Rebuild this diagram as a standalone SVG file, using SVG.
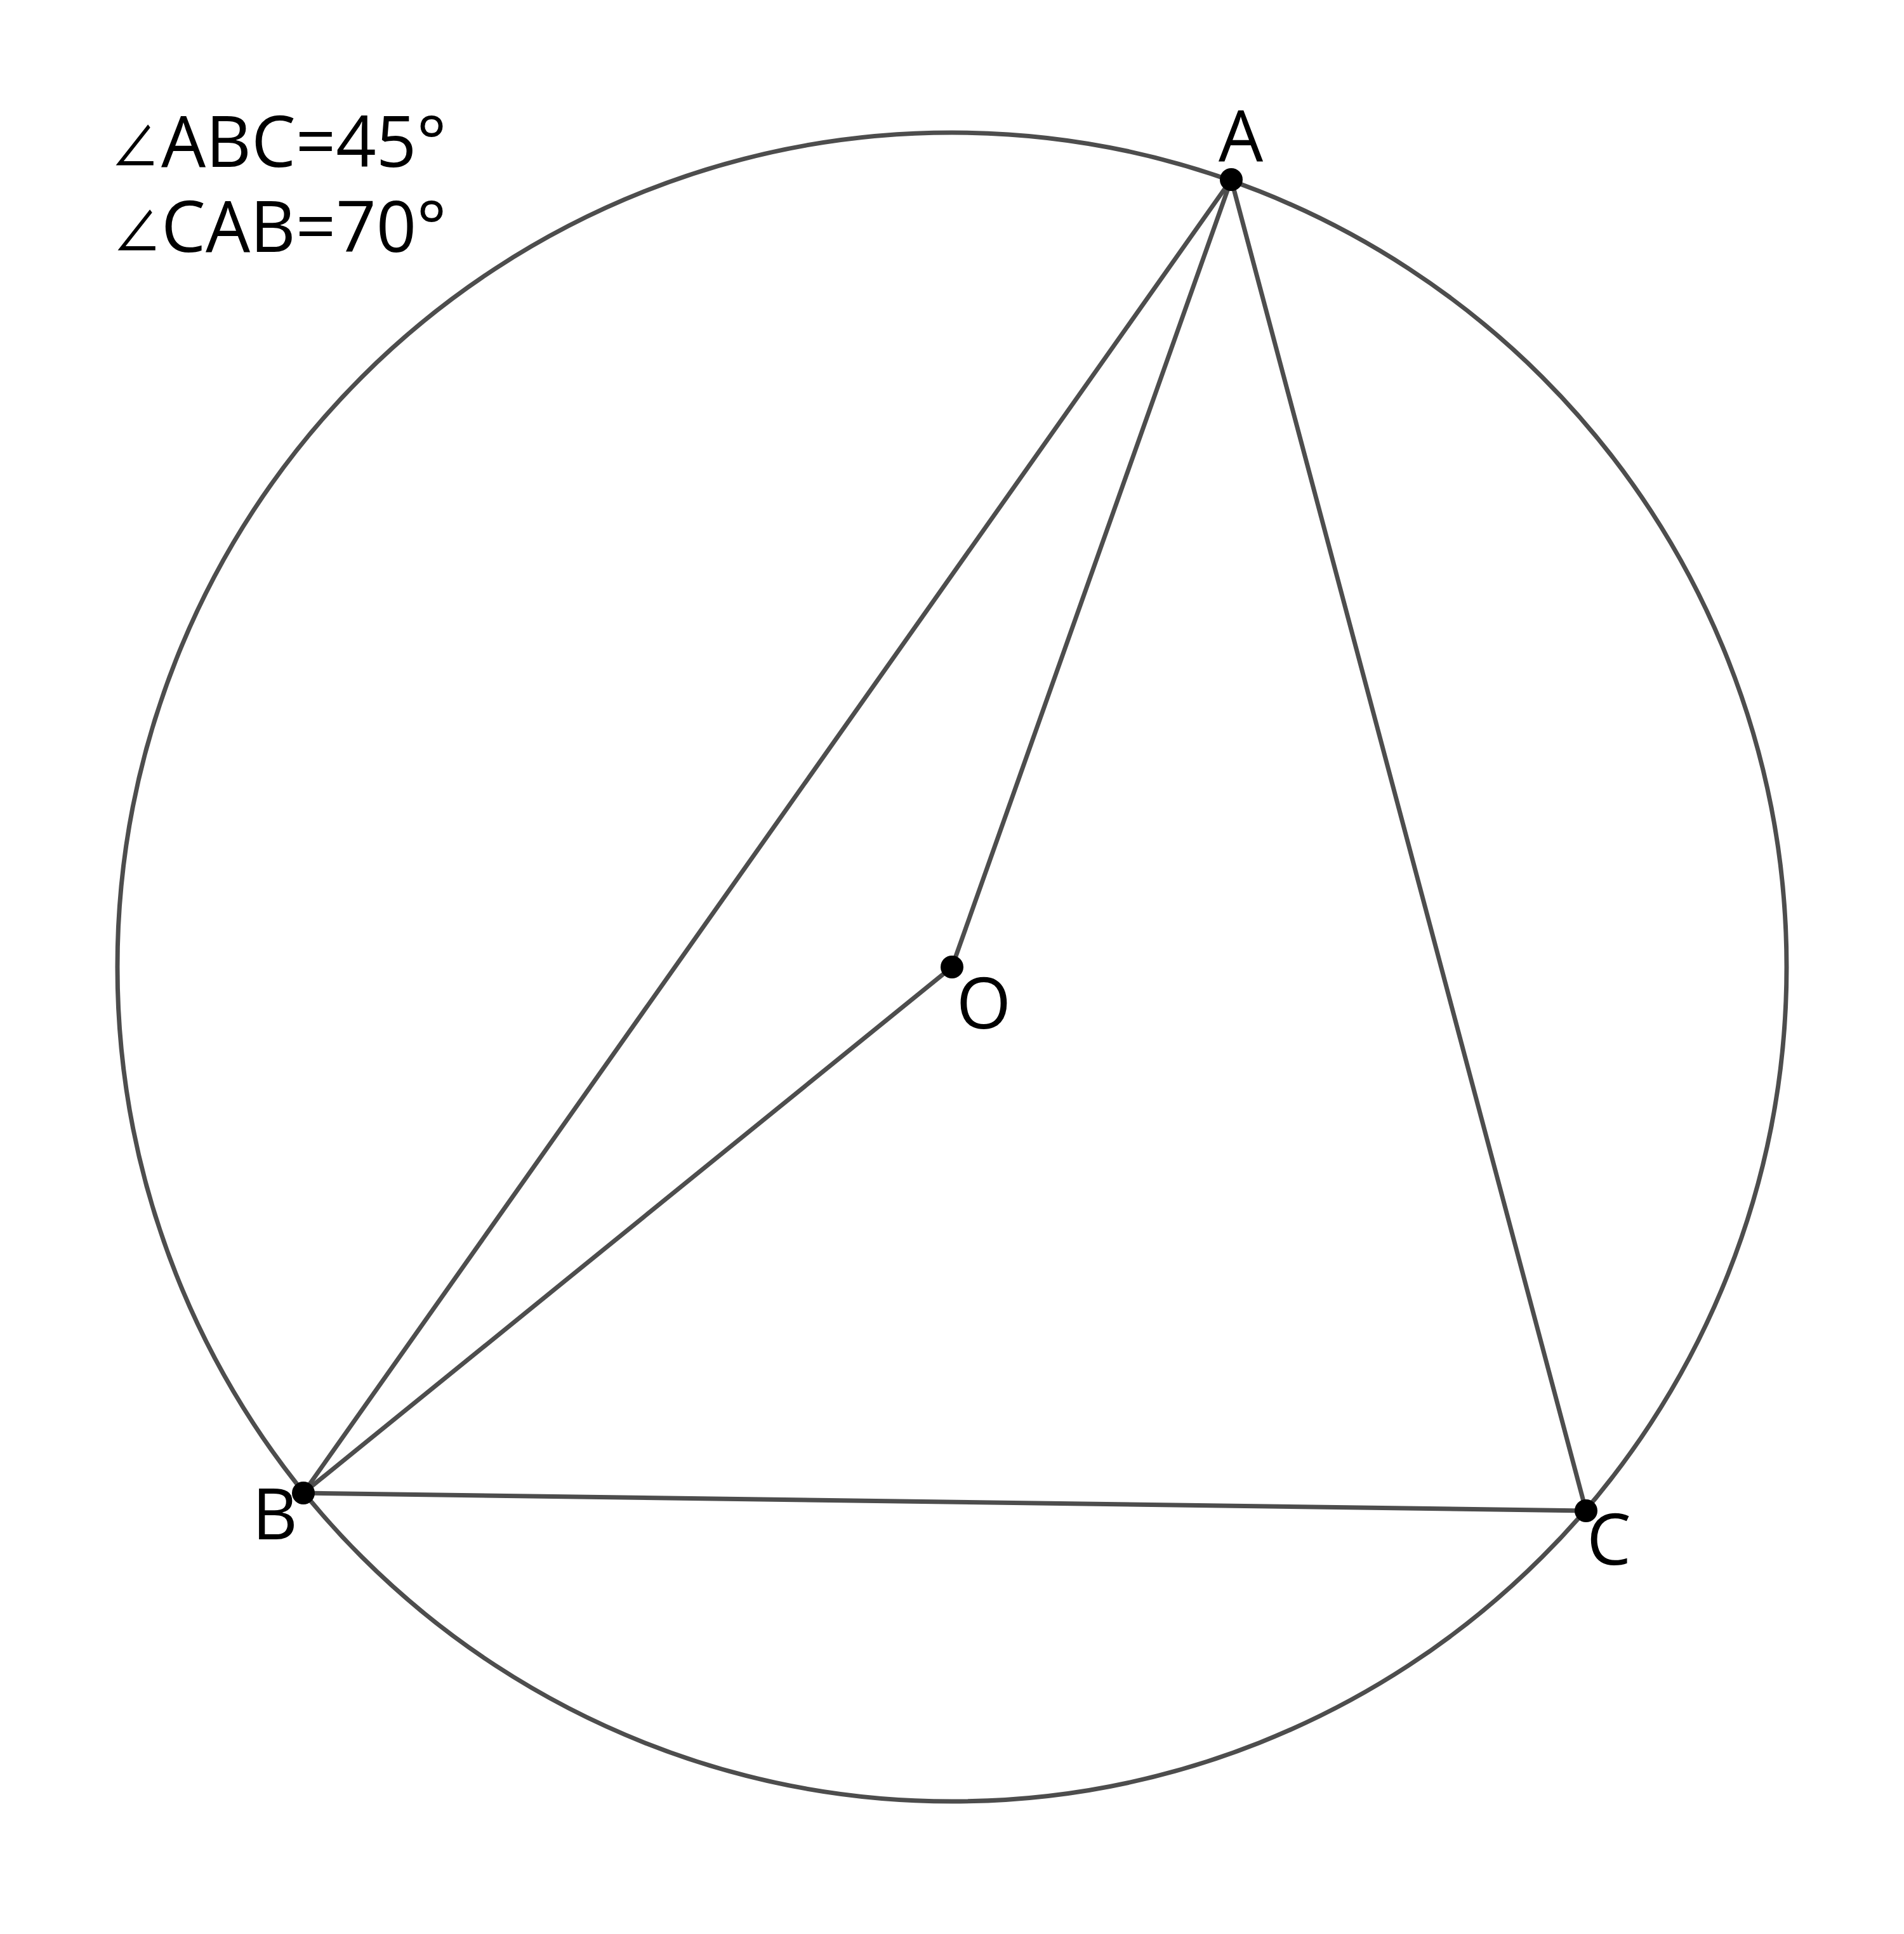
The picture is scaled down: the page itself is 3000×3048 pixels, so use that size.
<svg xmlns="http://www.w3.org/2000/svg" width="3000" height="3048" viewBox="0 0 3000 3048">
<style>
.ln{stroke:#4d4d4d;stroke-width:7;fill:none}
.pt{fill:#000}
.lb{font-family:"Open Sans","DejaVu Sans",sans-serif;font-size:111px;fill:#000}
.ang{font-family:"Noto Sans CJK SC","DejaVu Sans",sans-serif;font-size:95px}
</style>
<rect width="3000" height="3048" fill="#fff"/>
<g id="circle"><circle class="ln" cx="1500" cy="1524" r="1315"/></g>
<g id="connectors">
<line class="ln" x1="1940" y1="283" x2="478" y2="2353"/>
<line class="ln" x1="1940" y1="283" x2="1500" y2="1524"/>
<line class="ln" x1="1500" y1="1524" x2="478" y2="2353"/>
<line class="ln" x1="478" y1="2353" x2="2499" y2="2381"/>
<line class="ln" x1="2499" y1="2381" x2="1940" y2="283"/>
</g>
<g id="A"><circle class="pt" cx="1940" cy="283" r="18"/><text class="lb" x="1955" y="254" text-anchor="middle">A</text></g>
<g id="O"><circle class="pt" cx="1500" cy="1524" r="18"/><text class="lb" x="1550" y="1621" text-anchor="middle">O</text></g>
<g id="B"><circle class="pt" cx="478" cy="2353" r="18"/><text class="lb" x="433" y="2426" text-anchor="middle">B</text></g>
<g id="C"><circle class="pt" cx="2499" cy="2381" r="18"/><text class="lb" x="2535" y="2466" text-anchor="middle">C</text></g>
<g id="info">
<text class="lb" x="175" y="263"><tspan class="ang" textLength="76" lengthAdjust="spacingAndGlyphs">∠</tspan><tspan x="254">ABC=45°</tspan></text>
<text class="lb" x="178" y="397"><tspan class="ang" textLength="76" lengthAdjust="spacingAndGlyphs">∠</tspan><tspan x="254">CAB=70°</tspan></text>
</g>
</svg>
